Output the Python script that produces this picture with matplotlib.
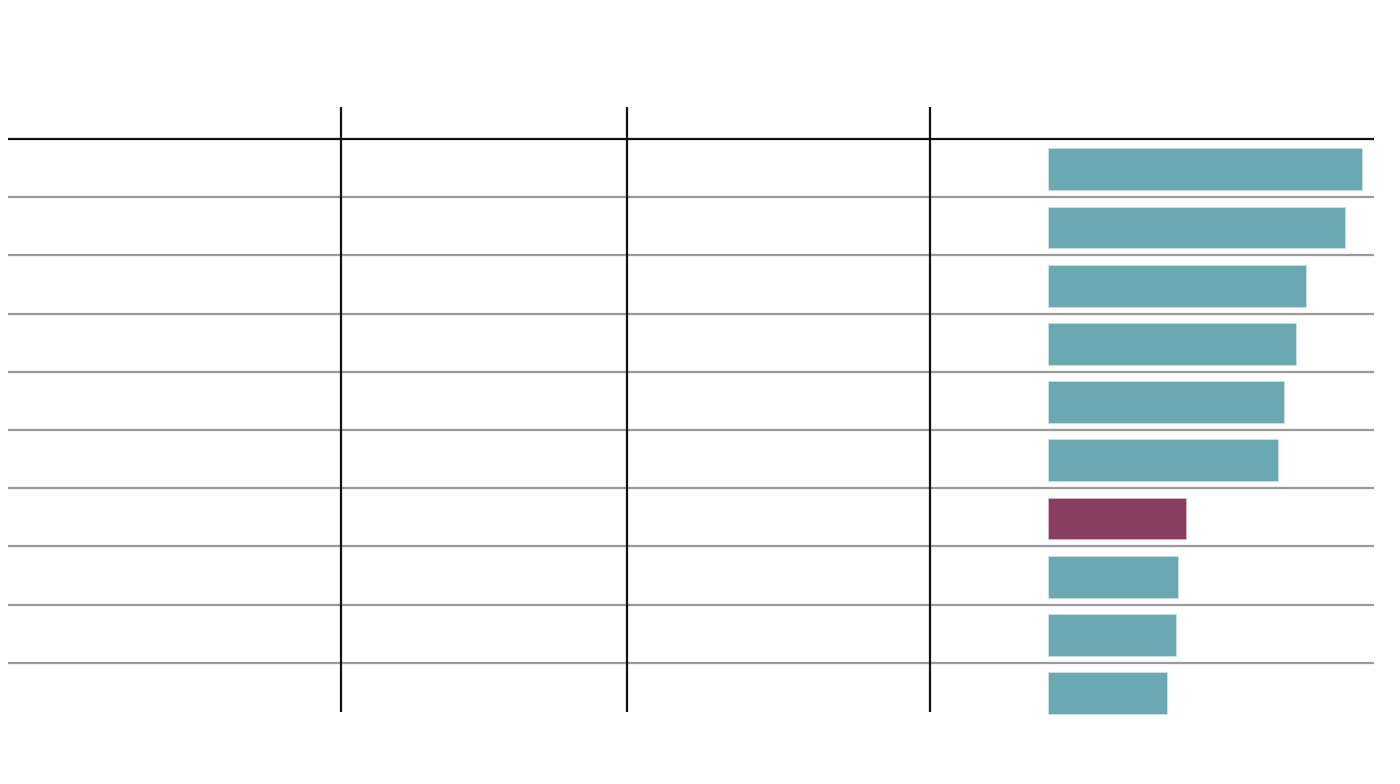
import matplotlib
matplotlib.use("Agg")
import matplotlib.pyplot as plt
import numpy as np

# Data (no text labels are visible in the reference)
values = [31.4, 29.7, 25.8, 24.8, 23.6, 23.0, 13.8, 13.0, 12.8, 11.9]
highlight = [False, False, False, False, False, False, True, False, False, False]

TEAL = "#6aa7b0"
MAROON = "#8a3e60"

W, H = 1400, 784
fig = plt.figure(figsize=(W / 100, H / 100), dpi=100)
fig.patch.set_facecolor("white")

n = len(values)
left_px, right_px = 8, 1374
top_px = 139
row_px = 58.2
bottom_px = top_px + row_px * n

# Table axes (rows in data units, columns as fraction of width)
tab = fig.add_axes([left_px / W, 1 - bottom_px / H,
                    (right_px - left_px) / W, (bottom_px - top_px) / H])
tab.set_xlim(0, 1)
tab.set_ylim(n, 0)
tab.axis("off")

# Header rule
tab.plot([0, 1], [0, 0], color="#111111", lw=1.6, solid_capstyle="butt", clip_on=False)
# Row separators
for i in range(1, n):
    tab.plot([0, 1], [i, i], color="#9a9a9a", lw=1.6, solid_capstyle="butt", clip_on=False)

# Column separators
col_px = [341, 627, 930]
y_top = (107 - top_px) / row_px
y_bot = (712 - top_px) / row_px
for cx in col_px:
    fx = (cx - left_px) / (right_px - left_px)
    tab.plot([fx, fx], [y_top, y_bot], color="#111111", lw=1.6, solid_capstyle="butt", clip_on=False)

# Bar axes
bar_left_px = 1048
bx = fig.add_axes([bar_left_px / W, 1 - bottom_px / H,
                   (right_px - bar_left_px) / W, (bottom_px - top_px) / H])
bx.set_xlim(0, (right_px - bar_left_px) / 10.0)
bx.set_ylim(n, 0)
bx.axis("off")
ypos = np.arange(n) + 0.52
colors = [MAROON if h else TEAL for h in highlight]
bx.barh(ypos, values, height=0.72, left=0, color=colors,
        edgecolor=["#d9b8c6" if h else "#c9e3e7" for h in highlight], linewidth=0.6)

fig.savefig("out.png", dpi=100, facecolor="white")
